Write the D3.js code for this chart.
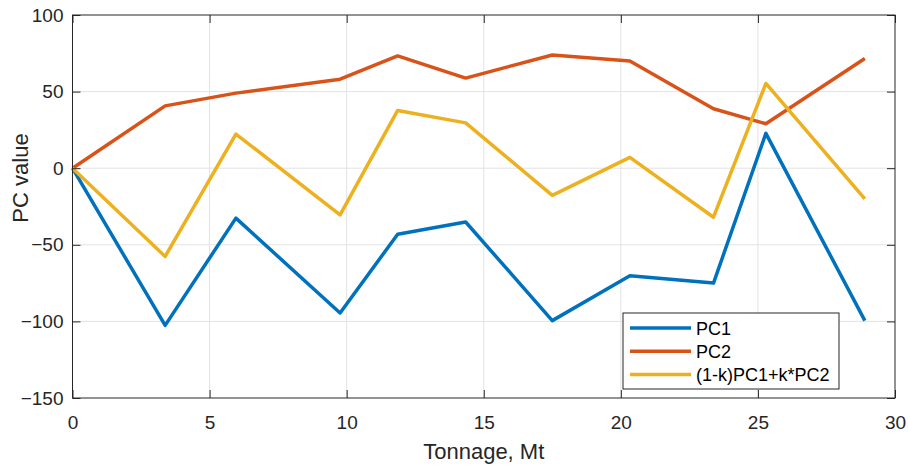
<!DOCTYPE html>
<html>
<head>
<meta charset="utf-8">
<script src="https://cdn.jsdelivr.net/npm/d3@7"></script>
<style>
  body { margin: 0; background: #fff; }
  svg { display: block; font-family: "Liberation Sans", Arial, sans-serif; }
</style>
</head>
<body>
<svg id="chart" width="908" height="468"></svg>
<script>
// tonnage (Mt) sample positions
var tonnage = [0, 3.38, 5.96, 9.76, 11.86, 14.34, 17.5, 20.33, 23.38, 25.29, 28.9];
var pc1 = [0, -102.6, -32.6, -94.5, -43.1, -35.1, -99.5, -70.2, -75, 22.7, -99.5];
var pc2 = [0, 40.7, 49, 58.1, 73.3, 58.8, 73.9, 70, 38.8, 29, 71.6];
var mix = [0, -57.6, 22.3, -30.5, 37.7, 29.6, -17.7, 7.1, -32, 55.3, -20];
var seriesNames = ['PC1', 'PC2', '(1-k)PC1+k*PC2'];
var xTicks = [0, 5, 10, 15, 20, 25, 30];
var yTicks = [-150, -100, -50, 0, 50, 100];

var colors = ['#0072BD', '#D95319', '#EDB120'];
var axisColor = '#262626';

var svg = d3.select('#chart'),
    margin = { left: 72.5, right: 13, top: 15, bottom: 70 },
    width = 908 - margin.left - margin.right,
    height = 468 - margin.top - margin.bottom;

var x = d3.scaleLinear().domain([0, 30]).range([0, width]);
var y = d3.scaleLinear().domain([-150, 100]).range([height, 0]);

var main = svg.append('g')
    .attr('transform', 'translate(' + margin.left + ',' + margin.top + ')');

// grid
var grid = main.append('g').attr('class', 'grid');
grid.selectAll('line.xgrid').data(xTicks.slice(1, -1))
    .enter().append('line')
    .attr('x1', x).attr('x2', x)
    .attr('y1', 0).attr('y2', height)
    .attr('stroke', '#e3e3e3').attr('stroke-width', 1);
grid.selectAll('line.ygrid').data(yTicks.slice(1, -1))
    .enter().append('line')
    .attr('x1', 0).attr('x2', width)
    .attr('y1', y).attr('y2', y)
    .attr('stroke', '#e3e3e3').attr('stroke-width', 1);

// lines
var line = d3.line()
    .x(function (d) { return x(d[0]); })
    .y(function (d) { return y(d[1]); });
[pc1, pc2, mix].forEach(function (vals, i) {
    main.append('path')
        .datum(tonnage.map(function (t, j) { return [t, vals[j]]; }))
        .attr('fill', 'none')
        .attr('stroke', colors[i])
        .attr('stroke-width', 3.5)
        .attr('stroke-linejoin', 'round')
        .attr('d', line);
});

// axes (ticks inside, box on)
function styleAxis(g) {
    g.select('.domain').remove();
    g.selectAll('.tick line').attr('stroke', axisColor);
    g.selectAll('.tick text').attr('fill', axisColor).attr('font-size', 19);
}
main.append('g')
    .attr('transform', 'translate(0,' + height + ')')
    .call(d3.axisBottom(x).tickValues(xTicks).tickSizeInner(-8).tickSizeOuter(0).tickPadding(18))
    .call(styleAxis);
main.append('g')
    .call(d3.axisLeft(y).tickValues(yTicks).tickSizeInner(-8).tickSizeOuter(0).tickPadding(9))
    .call(styleAxis);
main.append('g')
    .call(d3.axisTop(x).tickValues(xTicks).tickSizeInner(-8).tickSizeOuter(0).tickFormat(''))
    .call(styleAxis);
main.append('g')
    .attr('transform', 'translate(' + width + ',0)')
    .call(d3.axisRight(y).tickValues(yTicks).tickSizeInner(-8).tickSizeOuter(0).tickFormat(''))
    .call(styleAxis);
main.append('rect')
    .attr('width', width).attr('height', height)
    .attr('fill', 'none').attr('stroke', axisColor).attr('stroke-width', 1);

// axis labels
svg.append('text')
    .attr('x', margin.left + width / 2).attr('y', 459)
    .attr('text-anchor', 'middle').attr('font-size', 22).attr('fill', axisColor)
    .text('Tonnage, Mt');
svg.append('text')
    .attr('transform', 'translate(28,178) rotate(-90)')
    .attr('text-anchor', 'middle').attr('font-size', 22).attr('fill', axisColor)
    .text('PC value');

// legend
var legend = svg.append('g').attr('transform', 'translate(623,313)');
legend.append('rect')
    .attr('width', 216).attr('height', 76)
    .attr('fill', '#fff').attr('stroke', axisColor).attr('stroke-width', 1);
seriesNames.forEach(function (name, i) {
    var ly = 15 + i * 23.3;
    legend.append('line')
        .attr('x1', 7).attr('x2', 68).attr('y1', ly).attr('y2', ly)
        .attr('stroke', colors[i]).attr('stroke-width', 3.5);
    legend.append('text')
        .attr('x', 73).attr('y', ly + 6.6)
        .attr('font-size', 18).attr('fill', '#000')
        .text(name);
});
</script>
</body>
</html>
